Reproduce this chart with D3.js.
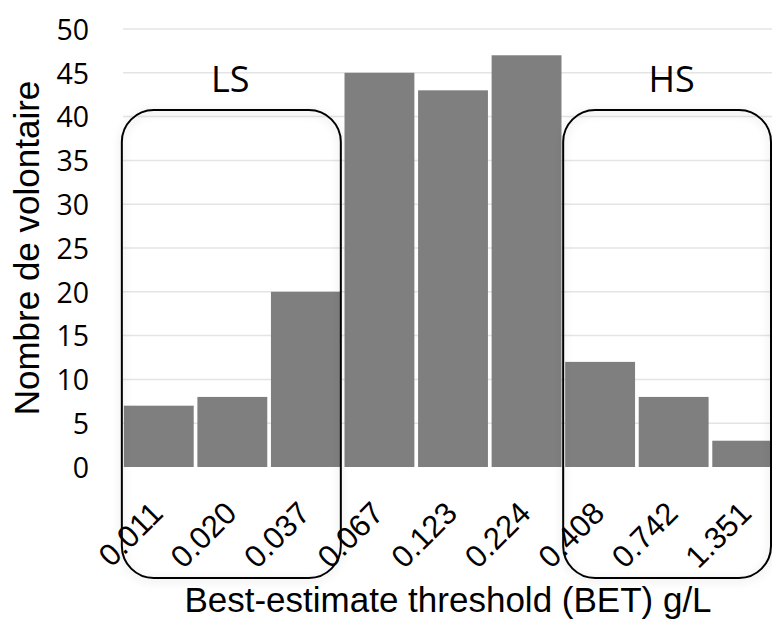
<!DOCTYPE html>
<html><head><meta charset="utf-8">
<script src="https://cdn.jsdelivr.net/npm/d3@7"></script>
<style>html,body{margin:0;padding:0;background:#fff;overflow:hidden}</style>
</head><body>
<svg id="chart" width="772" height="619"></svg>
<script>
const categories = ["0.011","0.020","0.037","0.067","0.123","0.224","0.408","0.742","1.351"];
const counts = [7, 8, 20, 45, 43, 47, 12, 8, 3];
const yTicks = [0,5,10,15,20,25,30,35,40,45,50];
const groups = [{label:"LS", from:"0.011", to:"0.037"},{label:"HS", from:"0.408", to:"1.351"}];

const svg = d3.select("#chart");
const W = 772, H = 619;
const x = d3.scaleBand().domain(categories).range([122, 784]).paddingInner(0.05).paddingOuter(0.025);
const y = d3.scaleLinear().domain([0,50]).range([467, 29]);

const defs = svg.append("defs");
const f = defs.append("filter").attr("id","sh").attr("x","-20%").attr("y","-20%").attr("width","140%").attr("height","140%");
f.append("feDropShadow").attr("dx",0).attr("dy",2).attr("stdDeviation",4).attr("flood-color","#000").attr("flood-opacity",0.18);

// gridlines
svg.append("g").selectAll("line").data(yTicks.filter(d=>d>0)).join("line")
  .attr("x1",123).attr("x2",W).attr("y1",d=>y(d)).attr("y2",d=>y(d))
  .attr("stroke","#e4e4e4").attr("stroke-width",1.5);

// y axis labels
const yAxis = d3.axisLeft(y).tickValues(yTicks).tickSize(0).tickPadding(0);
const ya = svg.append("g").attr("transform","translate(89,0)").call(yAxis);
ya.select(".domain").remove();
ya.selectAll("text").attr("font-family","'Open Sans', sans-serif").attr("font-size",28.5).attr("fill","#000").attr("dy","0.36em");

// bars
svg.append("g").selectAll("rect").data(categories).join("rect")
  .attr("x",d=>x(d)).attr("width",x.bandwidth())
  .attr("y",(d,i)=>y(counts[i])).attr("height",(d,i)=>y(0)-y(counts[i]))
  .attr("fill","#7f7f7f");

// x tick labels
const xAxis = d3.axisBottom(x).tickSize(0).tickPadding(0);
const xa = svg.append("g").call(xAxis);
xa.select(".domain").remove();
xa.selectAll(".tick").attr("transform",d=>`translate(${x(d)+x.bandwidth()/2+6},515)`);
xa.selectAll("text").attr("font-family","'Liberation Sans', Arial, sans-serif").attr("font-size",31)
  .attr("fill","#000").attr("text-anchor","end").attr("dy",0).attr("y",0)
  .attr("transform","rotate(-45)");

// group boxes
const boxTop = 110, boxBottom = 578;
groups.forEach(g => {
  const x0 = x(g.from) - 2;
  const x1 = Math.min(x(g.to) + x.bandwidth(), 771);
  svg.append("rect").attr("x",x0).attr("y",boxTop).attr("width",x1-x0).attr("height",boxBottom-boxTop)
    .attr("rx",32).attr("ry",32).attr("fill","none").attr("stroke","#000").attr("stroke-width",2)
    .attr("filter","url(#sh)");
  svg.append("text").attr("x",(x(g.from)+x(g.to)+x.bandwidth())/2 - 2).attr("y",92)
    .attr("text-anchor","middle").attr("font-family","'Open Sans', sans-serif").attr("font-size",36)
    .attr("fill","#000").text(g.label);
});

// axis titles
svg.append("text").attr("x",448).attr("y",612).attr("text-anchor","middle")
  .attr("font-family","'Liberation Sans', Arial, sans-serif").attr("font-size",35).attr("fill","#000")
  .text("Best-estimate threshold (BET) g/L");
svg.append("text").attr("transform","translate(39,248) rotate(-90)").attr("text-anchor","middle")
  .attr("font-family","'Liberation Sans', Arial, sans-serif").attr("font-size",35).attr("fill","#000")
  .text("Nombre de volontaire");
</script>
</body></html>
